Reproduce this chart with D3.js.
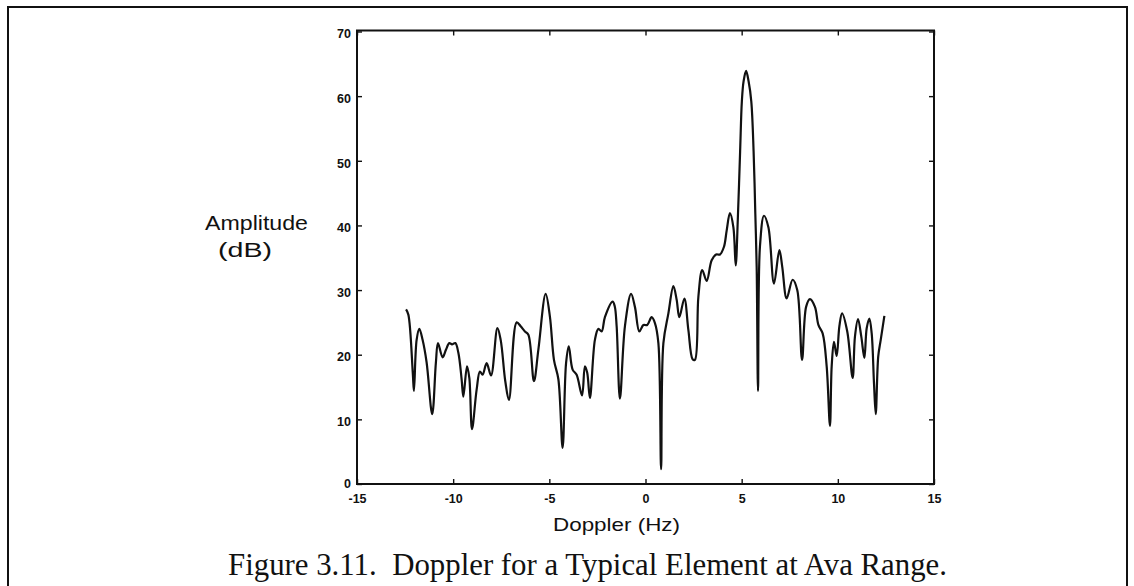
<!DOCTYPE html>
<html>
<head>
<meta charset="utf-8">
<script src="https://cdn.jsdelivr.net/npm/d3@7"></script>
<style>
  html, body { margin: 0; padding: 0; background: #fff; }
  svg { display: block; }
  text { white-space: pre; }
</style>
</head>
<body>
<svg id="chart" width="1134" height="586"></svg>
<script>
// ---- data ----
const dopplerHz = [
  -12.45, -12.33, -12.1, -12.04, -11.9, -11.76, -11.59, -11.38, -11.09, -10.9,
  -10.79, -10.55, -10.37, -10.2, -10.06, -9.89, -9.73, -9.56, -9.47, -9.28,
  -9.16, -9.02, -8.78, -8.61, -8.47, -8.26, -8.03, -7.7, -7.53, -7.29,
  -7.1, -6.7, -6.49, -6.27, -6.09, -5.8, -5.57, -5.19, -4.97, -4.76,
  -4.53, -4.31, -4.13, -3.99, -3.79, -3.58, -3.3, -3.15, -3.03, -2.89,
  -2.63, -2.45, -2.28, -2.11, -1.71, -1.6, -1.5, -1.33, -1.07, -0.75,
  -0.55, -0.32, -0.11, 0.09, 0.32, 0.49, 0.67, 0.81, 0.93, 1.19,
  1.45, 1.62, 1.76, 2.02, 2.23, 2.45, 2.57, 2.75, 2.95, 3.18,
  3.44, 3.67, 3.87, 4.08, 4.22, 4.39, 4.57, 4.69, 4.8, 4.92,
  5.01, 5.1, 5.23, 5.36, 5.5, 5.62, 5.71, 5.78, 5.85, 5.95,
  6.16, 6.39, 6.68, 6.96, 7.11, 7.34, 7.65, 7.89, 8.14, 8.35,
  8.55, 8.81, 8.99, 9.21, 9.42, 9.59, 9.68, 9.8, 9.94, 10.08,
  10.22, 10.49, 10.77, 10.89, 11.05, 11.22, 11.38, 11.5, 11.64, 11.76,
  11.88, 11.97, 12.1, 12.23, 12.42
];
const amplitudeDb = [
  27.0, 26.2, 17.2, 14.4, 22.3, 24.0, 22.3, 18.8, 10.8, 18.7,
  21.8, 19.6, 20.8, 21.8, 21.6, 21.8, 20.3, 16.2, 13.5, 18.2,
  16.4, 8.5, 14.6, 17.4, 16.9, 18.7, 16.8, 24.1, 22.3, 15.9,
  13.0, 25.0, 24.4, 23.6, 23.1, 15.9, 20.8, 29.4, 25.9, 19.2,
  16.2, 5.6, 18.7, 21.3, 17.7, 16.9, 13.7, 18.2, 17.2, 13.3,
  22.3, 24.0, 23.6, 25.8, 28.2, 27.5, 24.4, 13.2, 24.4, 29.4,
  27.4, 23.6, 24.6, 24.6, 25.8, 24.9, 21.8, 2.3, 21.8, 26.4,
  30.6, 28.5, 25.8, 28.7, 23.8, 19.3, 19.2, 29.0, 33.1, 31.4,
  34.6, 35.5, 35.5, 36.7, 39.2, 41.9, 39.7, 33.8, 41.0, 51.5,
  59.2, 62.3, 63.9, 62.3, 59.2, 51.5, 41.8, 33.6, 14.4, 36.7,
  41.5, 39.7, 31.0, 36.2, 33.6, 28.7, 31.6, 30.0, 19.2, 27.4,
  28.6, 27.4, 24.6, 23.3, 18.2, 9.0, 18.2, 22.0, 19.8, 24.4,
  26.4, 23.6, 16.4, 22.8, 25.5, 22.8, 19.5, 24.1, 25.6, 23.3,
  15.6, 10.8, 19.7, 22.3, 26.0
];
const xTicks = [-15, -10, -5, 0, 5, 10, 15];
const yTicks = [0, 10, 20, 30, 40, 50, 60, 70];
const xDomain = [-15, 15];
const yDomain = [0, 70];
const xLabel = "Doppler (Hz)";
const yLabelLines = ["Amplitude", "(dB)"];
const caption = "Figure 3.11.  Doppler for a Typical Element at Ava Range.";

// ---- drawing ----
const svg = d3.select("#chart");
const plot = { left: 357, right: 934, top: 30.5, bottom: 484 };

const x = d3.scaleLinear().domain(xDomain).range([plot.left, plot.right]);
const y = d3.scaleLinear().domain(yDomain).range([plot.bottom, plot.top + 1]);

// outer page frame
svg.append("rect")
  .attr("x", 8).attr("y", 7)
  .attr("width", 1119).attr("height", 620)
  .attr("fill", "none").attr("stroke", "#111").attr("stroke-width", 2);

const tickFont = "'Liberation Sans', Arial, Helvetica, sans-serif";
const tickLen = 5;
const fmt = d => String(d);   // plain hyphen-minus like the original

// bottom axis (ticks inward)
const gx = svg.append("g")
  .attr("transform", `translate(0,${plot.bottom})`)
  .call(d3.axisBottom(x).tickValues(xTicks).tickSize(-tickLen).tickPadding(12)
        .tickFormat(fmt));
// top axis ticks (no labels)
const gxt = svg.append("g")
  .attr("transform", `translate(0,${plot.top})`)
  .call(d3.axisTop(x).tickValues(xTicks).tickSize(-tickLen).tickFormat(""));
// left axis
const gy = svg.append("g")
  .attr("transform", `translate(${plot.left},0)`)
  .call(d3.axisLeft(y).tickValues(yTicks).tickSize(-tickLen).tickPadding(6)
        .tickFormat(fmt));
// right axis ticks
const gyr = svg.append("g")
  .attr("transform", `translate(${plot.right},0)`)
  .call(d3.axisRight(y).tickValues(yTicks).tickSize(-tickLen).tickFormat(""));

[gx, gxt, gy, gyr].forEach(g => {
  g.select(".domain").remove();
  g.selectAll(".tick line").attr("stroke", "#111").attr("stroke-width", 1.4);
  g.selectAll(".tick text")
    .attr("fill", "#111")
    .style("font-family", tickFont)
    .style("font-size", "12.5px")
    .style("font-weight", "bold");
});
gx.selectAll(".tick text").attr("dy", "0.55em");
gy.selectAll(".tick text").attr("dy", d => d === 0 ? "0.3em" : "0.5em");

// axes box
svg.append("rect")
  .attr("x", plot.left).attr("y", plot.top)
  .attr("width", plot.right - plot.left).attr("height", plot.bottom - plot.top)
  .attr("fill", "none").attr("stroke", "#111").attr("stroke-width", 2);

// data line
const pts = dopplerHz.map((d, i) => [d, amplitudeDb[i]]);
svg.append("path")
  .datum(pts)
  .attr("fill", "none")
  .attr("stroke", "#111")
  .attr("stroke-width", 2.2)
  .attr("stroke-linejoin", "round")
  .attr("d", d3.line().x(d => x(d[0])).y(d => y(d[1])).curve(d3.curveCatmullRom.alpha(0.5)));

// axis labels
svg.append("text")
  .attr("x", 553).attr("y", 531)
  .attr("textLength", 127).attr("lengthAdjust", "spacingAndGlyphs")
  .style("font-family", tickFont).style("font-size", "19px").attr("fill", "#111")
  .text(xLabel);

svg.append("text")
  .attr("x", 205).attr("y", 230)
  .attr("textLength", 103).attr("lengthAdjust", "spacingAndGlyphs")
  .style("font-family", tickFont).style("font-size", "20px").attr("fill", "#111")
  .text(yLabelLines[0]);
svg.append("text")
  .attr("x", 218).attr("y", 257)
  .attr("textLength", 54).attr("lengthAdjust", "spacingAndGlyphs")
  .style("font-family", tickFont).style("font-size", "20px").attr("fill", "#111")
  .text(yLabelLines[1]);

// caption
svg.append("text")
  .attr("x", 228).attr("y", 575)
  .attr("textLength", 719).attr("lengthAdjust", "spacingAndGlyphs")
  .style("font-family", "'Liberation Serif', 'Times New Roman', serif")
  .style("font-size", "31px").attr("fill", "#111")
  .text(caption);
</script>
</body>
</html>
